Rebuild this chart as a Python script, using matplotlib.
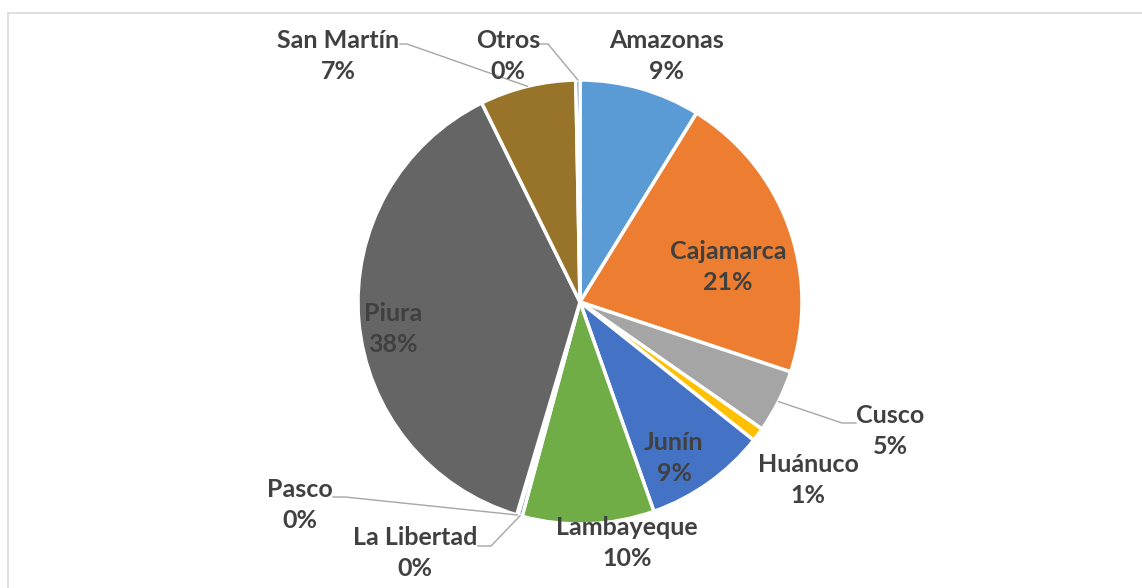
import numpy as np
import matplotlib.pyplot as plt
from matplotlib.patches import Rectangle

# share by department (%), clockwise from 12 o'clock
departamentos = ['Amazonas', 'Cajamarca', 'Cusco', 'Huánuco', 'Junín', 'Lambayeque',
                 'La Libertad', 'Pasco', 'Piura', 'San Martín', 'Otros']
valores = [8.8, 21.3, 4.6, 1.0, 8.9, 9.6, 0.3, 0.1, 38.1, 7.0, 0.3]
colores = ['#5B9BD5', '#ED7D31', '#A5A5A5', '#FFC000', '#4472C4', '#70AD47',
           '#255E91', '#9E480E', '#656565', '#977429', '#264478']

W, H = 1142, 588
cx, cy, r = 580, H - 302, 222

# label centre (x, y from top) and optional leader line end (x, y from top)
etiquetas = {
    'Amazonas':    ((667, 56), None),
    'Cajamarca':   ((728, 267), None),
    'Cusco':       ((890, 431), [(856, 423), (842, 423)]),
    'Huánuco':     ((808, 480), None),
    'Junín':       ((674, 458), None),
    'Lambayeque':  ((627, 543), None),
    'La Libertad': ((415, 553), [(478, 546), (491, 546)]),
    'Pasco':       ((300, 505), [(333, 497), (345, 497)]),
    'Piura':       ((393, 329), None),
    'San Martín':  ((338, 56), [(400, 44), (407, 44)]),
    'Otros':       ((508, 56), [(537, 44), (548, 44)]),
}

fig = plt.figure(figsize=(W / 100, H / 100), dpi=100)
ax = fig.add_axes([0, 0, 1, 1])

wedges, _ = ax.pie(valores, colors=colores, startangle=90, counterclock=False,
                   center=(cx, cy), radius=r,
                   wedgeprops=dict(edgecolor='white', linewidth=2.5))

total = sum(valores)
for w, nombre, v in zip(wedges, departamentos, valores):
    (tx, ty), linea = etiquetas[nombre]
    ax.text(tx, H - ty, f'{nombre}\n{v / total * 100:.0f}%', ha='center', va='center',
            fontsize=18, fontweight='bold', color='#404040', family='Lato',
            linespacing=1.4, zorder=5)
    if linea:
        ang = np.deg2rad((w.theta1 + w.theta2) / 2)
        ax_pt = (cx + r * np.cos(ang), cy + r * np.sin(ang))
        xs = [p[0] for p in linea] + [ax_pt[0]]
        ys = [H - p[1] for p in linea] + [ax_pt[1]]
        ax.plot(xs, ys, color='#A6A6A6', lw=1.0, zorder=4)

# chart area border
ax.add_patch(Rectangle((7.5, -10), W + 20, H - 13 + 10, fill=False,
                       edgecolor='#D9D9D9', lw=1.2, zorder=0))

ax.set_xlim(0, W)
ax.set_ylim(0, H)
ax.set_aspect('auto')
ax.axis('off')

fig.savefig('out.png', dpi=100, facecolor='white')
